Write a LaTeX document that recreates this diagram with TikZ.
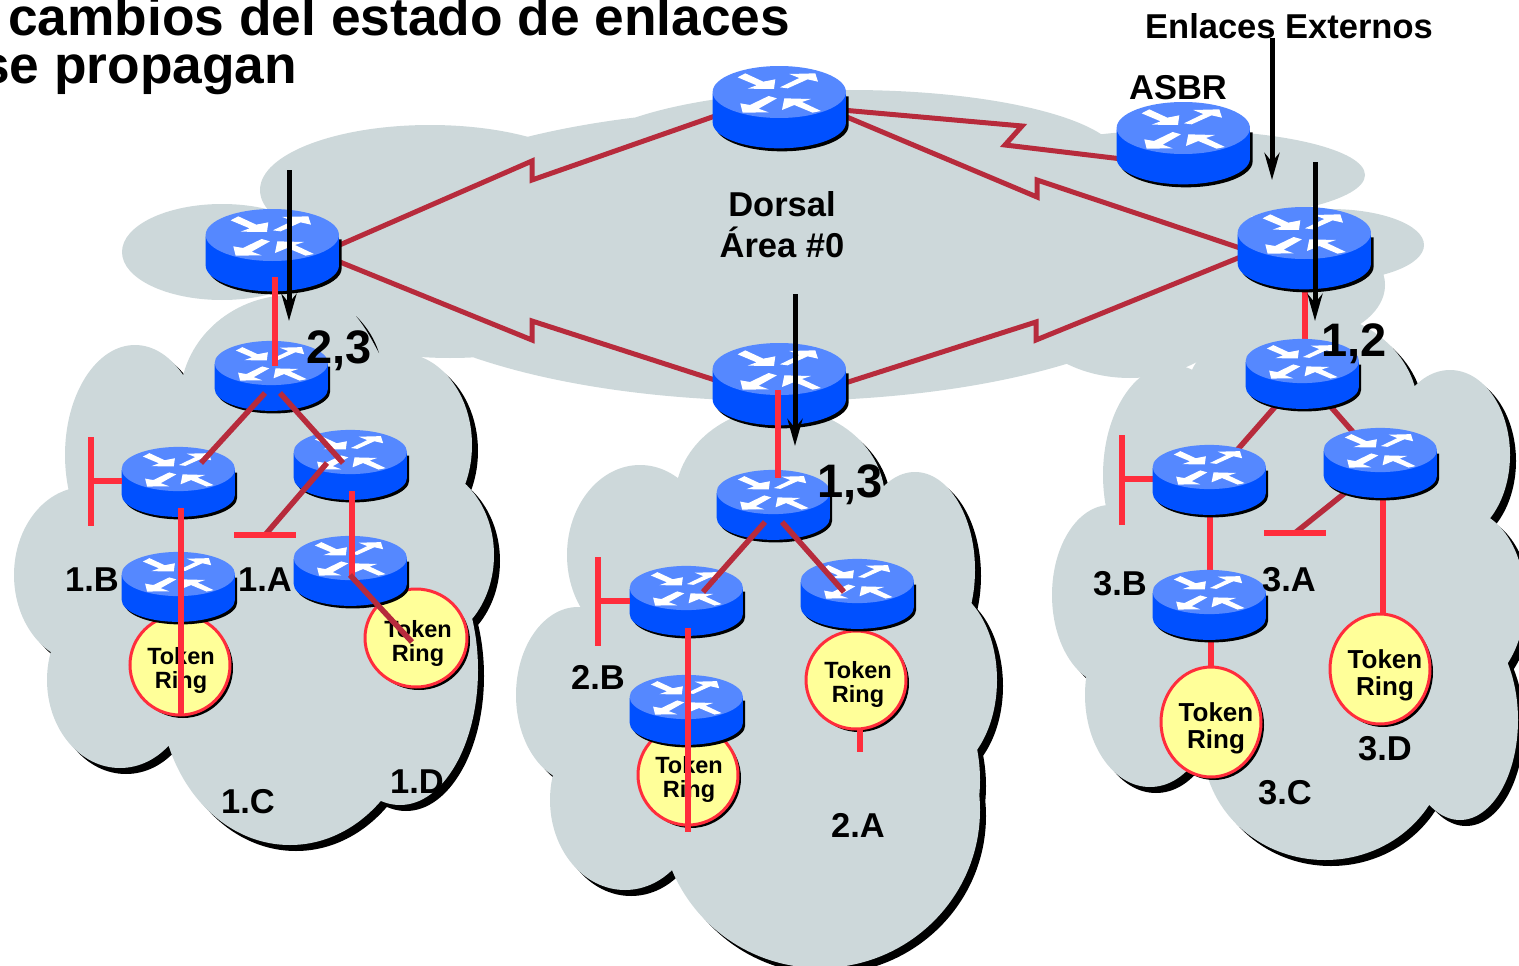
\documentclass[tikz,border=0pt]{standalone}
\usepackage{fontspec}
\setmainfont{Liberation Sans}
\usetikzlibrary{calc,arrows.meta}
\definecolor{cloudc}{HTML}{CDD8DA}
\definecolor{brick}{HTML}{B72B3C}
\definecolor{redl}{HTML}{FF2D3C}
\definecolor{rtop}{HTML}{5588FF}
\definecolor{rbody}{HTML}{0050FF}
\definecolor{tokeny}{HTML}{FFFF99}
\tikzset{
 brickline/.style={draw=brick,line width=5pt,line join=miter},
 arealine/.style={draw=brick,line width=5.5pt},
 redline/.style={draw=redl,line width=5.5pt},
 flow/.style={draw=black,line width=5pt,-{Stealth[length=27pt,width=15pt,inset=9pt]}},
 lab/.style={font=\bfseries\fontsize{34.5}{37}\selectfont,inner sep=0pt,align=center},
 hop/.style={font=\bfseries\fontsize{47}{47}\selectfont,inner sep=0pt},
 ttl/.style={font=\bfseries\fontsize{53.3}{53}\selectfont,inner sep=0pt,anchor=base west},
 toktext/.style={font=\bfseries\fontsize{23.5}{24}\selectfont,inner sep=0pt,align=center},
 toktextb/.style={font=\bfseries\fontsize{26}{27}\selectfont,inner sep=0pt,align=center},
 routerbox/.style={inner sep=0pt,outer sep=0pt,rectangle},
}
% name, cx, cy of top ellipse, scale s
\newcommand\router[4]{%
 \node[routerbox,minimum width=#4*134pt,minimum height=#4*82pt] (#1) at (#2,#3+15*#4) {};
 \begin{scope}[shift={(#2-0.7,#3)},scale=#4/3]
  \fill[black,shift={(8,9)}] (-200,4) -- (-200,91) arc[start angle=180,end angle=0,x radius=200,y radius=78] -- (200,4) -- cycle;
  \fill[rbody] (-200,4) -- (-200,91) arc[start angle=180,end angle=0,x radius=200,y radius=78] -- (200,4) -- cycle;
  \fill[rtop] (0,0) ellipse[x radius=200,y radius=78];
  \fill[white] (-125,-44)--(-102,-56)--(-48,-31)--(-12,-38)--(-16,-9)--(-95,-10)--(-68,-20)--cycle;
  \fill[white] (2,-14)--(60,-42)--(30,-54)--(108,-56)--(116,-31)--(85,-38)--(25,-11)--cycle;
  \fill[white] (-7,19)--(-32,12)--(-88,39)--(-117,34)--(-110,62)--(-32,61)--(-62,50)--cycle;
  \fill[white] (125,57)--(100,62)--(45,39)--(8,54)--(15,19)--(95,21)--(68,30)--cycle;
 \end{scope}}
% name, cx, cy, rx, ry
\newcommand\tokenring[5]{%
 \fill[black] (#2+3,#3+3) ellipse[x radius=#4,y radius=#5];
 \node[routerbox,minimum width=2pt,minimum height=2pt] (#1) at (#2,#3) {};
 \filldraw[fill=tokeny,draw=redl,line width=3pt] (#2,#3) ellipse[x radius=#4,y radius=#5];}
\def\cloudA{
 (292,400) ellipse[x radius=112,y radius=105]
 (400,445) ellipse[x radius=72,y radius=92]
 (420,555) ellipse[x radius=74,y radius=90]
 (400,670) ellipse[x radius=78,y radius=135]
 (135,455) ellipse[x radius=70,y radius=110]
 (85,575) ellipse[x radius=71,y radius=88]
 (120,680) ellipse[x radius=73,y radius=88]
 (290,690) ellipse[x radius=130,y radius=155]
 (260,560) ellipse[x radius=170,y radius=170]}
\def\cloudB{
 (780,500) ellipse[x radius=105,y radius=92]
 (640,555) ellipse[x radius=73,y radius=90]
 (578,695) ellipse[x radius=62,y radius=88]
 (625,800) ellipse[x radius=75,y radius=90]
 (820,810) ellipse[x radius=160,y radius=158]
 (915,570) ellipse[x radius=60,y radius=98]
 (935,680) ellipse[x radius=62,y radius=95]
 (920,780) ellipse[x radius=60,y radius=100]
 (780,650) ellipse[x radius=180,y radius=190]}
\def\cloudC{
 (1300,410) ellipse[x radius=118,y radius=100]
 (1172,475) ellipse[x radius=69,y radius=110]
 (1110,595) ellipse[x radius=58,y radius=90]
 (1150,695) ellipse[x radius=65,y radius=92]
 (1325,745) ellipse[x radius=122,y radius=115]
 (1450,455) ellipse[x radius=60,y radius=85]
 (1465,600) ellipse[x radius=60,y radius=90]
 (1460,720) ellipse[x radius=58,y radius=100]
 (1300,590) ellipse[x radius=180,y radius=180]}
\begin{document}
\begin{tikzpicture}[x=1pt,y=-1pt]
\useasboundingbox (0,0) rectangle (1519,966);
\clip (0,0) rectangle (1519,966);
% cloud shadows
\fill[black,xshift=6pt,yshift=-6pt] \cloudA;
\fill[black,xshift=6pt,yshift=-6pt] \cloudB;
\fill[black,xshift=6pt,yshift=-6pt] \cloudC;
\fill[cloudc] \cloudA;
\fill[cloudc] \cloudB;
\fill[cloudc] \cloudC;
% backbone
\fill[cloudc]
 (222,252) ellipse[x radius=100,y radius=48]
 (430,190) ellipse[x radius=170,y radius=65]
 (850,160) ellipse[x radius=270,y radius=70]
 (1180,175) ellipse[x radius=185,y radius=45]
 (1180,240) ellipse[x radius=80,y radius=50]
 (1330,245) ellipse[x radius=94,y radius=36]
 (780,255) ellipse[x radius=430,y radius=146]
 (450,290) ellipse[x radius=170,y radius=68]
 (1290,285) ellipse[x radius=95,y radius=58]
 (1130,300) ellipse[x radius=110,y radius=78];
\fill[black] (356,316) .. controls (368,328) and (375,340) .. (379,353) .. controls (372,340) and (366,328) .. (356,316);
% named router places for the connectors below the bodies
\path
 node[routerbox,minimum width=134pt,minimum height=82pt] (B0) at (780,107) {}
 node[routerbox,minimum width=134pt,minimum height=82pt] (B1) at (273,250) {}
 node[routerbox,minimum width=134pt,minimum height=82pt] (B3) at (1305,248) {}
 node[routerbox,minimum width=134pt,minimum height=82pt] (B2) at (780,384) {}
 node[routerbox,minimum width=134pt,minimum height=82pt] (ASBR) at (1184,143) {};
% backbone links
\draw[brickline] ($(B1.east)+(-5,-3)$) -- (532,161) -- (532,180) -- ($(B0.west)+(5,8)$);
\draw[brickline] ($(B1.east)+(-5,10)$) -- (532,340) -- (532,321) -- ($(B2.west)+(5,-3)$);
\draw[brickline] ($(B0.east)+(-5,8)$) -- (1037,197) -- (1037,180) -- ($(B3.west)+(5,1)$);
\draw[brickline] ($(B2.east)+(-5,0)$) -- (1036,322) -- (1036,340) -- ($(B3.west)+(5,8)$);
\draw[brickline] ($(B0.east)+(-5,3)$) -- (1022,126) -- (1005,145) -- ($(ASBR.west)+(5,16)$);
% area 3 links under routers
\coordinate (c3l) at (1210,481);
\coordinate (c3r) at (1381,464);
\coordinate (c30) at (1303,375);
\draw[redline] (1305,280) -- (1305,345);
\coordinate (e3a) at (1295,533);
\draw[arealine] (c30) -- (c3l);
\draw[arealine] (c30) -- (c3r);
\draw[arealine] (c3r) -- (e3a);
\draw[redline] (1210,481) -- (1210,600);
\draw[redline] (1383,480) -- (1383,640);
\draw[redline] (1211,625) -- (1211,690);
\coordinate (t3a1) at (1264,533);\coordinate (t3a2) at (1326,533);
\draw[redline] (t3a1) -- (t3a2);
\coordinate (t3b1) at (1122,435);\coordinate (t3b2) at (1122,525);\coordinate (t3b3) at (1155,479);
\draw[redline] (t3b1) -- (t3b2);
\draw[redline] (1122,479) -- (t3b3);
% tokens
\tokenring{T1a}{180}{665}{50}{50}
\tokenring{T1d}{416}{638}{51}{49}
\tokenring{T2b}{688}{775}{50}{50}
\tokenring{T2aa}{856}{680}{50}{49}
\tokenring{T3b}{1211}{722}{50}{55}
\tokenring{T3a}{1380}{669}{50}{55}
\node[toktext] (tt1) at (181,670) {Token\\Ring};
\node[toktext] (tt2) at (418,643) {Token\\Ring};
\node[toktext] (tt3) at (689,779) {Token\\Ring};
\node[toktext] (tt4) at (858,684) {Token\\Ring};
\node[toktextb] (tt5) at (1216,728) {Token\\Ring};
\node[toktextb] (tt6) at (1385,675) {Token\\Ring};
% routers
\router{R0}{780}{92}{1}
\router{R1}{273}{235}{1}
\router{R3}{1305}{233}{1}
\router{R2}{780}{369}{1}
\router{RA}{1184}{128}{1}
\router{A0}{272}{363}{.85}
\router{A1}{179}{469}{.85}
\router{A2}{351}{452}{.85}
\router{A3}{179}{574}{.85}
\router{A4}{351}{558}{.85}
\router{M0}{774}{492}{.85}
\router{M1}{687}{588}{.85}
\router{M2}{858}{581}{.85}
\router{M3}{687}{697}{.85}
\router{C0}{1303}{361}{.85}
\router{C1}{1210}{467}{.85}
\router{C2}{1381}{450}{.85}
\router{C3}{1210}{592}{.85}
% links over routers, area 1
\draw[redline] (275,277) -- (275,366);
\draw[arealine] (265,393) -- (201,463);
\draw[arealine] (280,393) -- (343,463);
\draw[arealine] (327,463) -- (265,535);
\draw[redline] (234,535) -- (296,535);
\draw[redline] (91,437) -- (91,526);
\draw[redline] (91,481) -- (122,481);
\draw[redline] (181,508) -- (181,715);
\draw[redline] (352,491) -- (352,577);
\draw[arealine] (350,575) -- (412,642);
% links over routers, area 2
\draw[redline] (778,390) -- (778,478);
\draw[arealine] (765,522) -- (703,592);
\draw[arealine] (782,522) -- (844,592);
\draw[redline] (598,557) -- (598,646);
\draw[redline] (598,601) -- (630,601);
\draw[redline] (688,628) -- (688,832);
\draw[redline] (860,730) -- (860,752);
% flows
\coordinate (f1a) at (289,170);\coordinate (f1b) at (289,321);
\coordinate (f2a) at (795,294);\coordinate (f2b) at (795,446);
\coordinate (f3a) at (1315,162);\coordinate (f3b) at (1315,321);
\coordinate (f4a) at (1272,38);\coordinate (f4b) at (1272,180);
\draw[flow] (f1a) -- (f1b);
\draw[flow] (f2a) -- (f2b);
\draw[flow] (f3a) -- (f3b);
\draw[flow] (f4a) -- (f4b);
% texts
\node[ttl] (t1) at (8,36) {cambios del estado de enlaces};
\node[ttl] (t2) at (-20,84) {se propagan};
\node[lab] (dorsal) at (782,225) {Dorsal\\[4pt]Área \#0};
\node[lab] (ext) at (1289,26) {Enlaces Externos};
\node[lab] (asbr) at (1178,88) {ASBR};
\node[hop] (h1) at (339,351) {2,3};
\node[hop] (h2) at (850,485) {1,3};
\node[hop] (h3) at (1354,344) {1,2};
\node[lab] (l1) at (92,580) {1.B};
\node[lab] (l2) at (265,580) {1.A};
\node[lab] (l3) at (248,802) {1.C};
\node[lab] (l4) at (417,782) {1.D};
\node[lab] (l5) at (598,677) {2.B};
\node[lab] (l6) at (858,825) {2.A};
\node[lab] (l7) at (1120,584) {3.B};
\node[lab] (l8) at (1289,580) {3.A};
\node[lab] (l9) at (1285,793) {3.C};
\node[lab] (l10) at (1385,749) {3.D};
\end{tikzpicture}
\end{document}
